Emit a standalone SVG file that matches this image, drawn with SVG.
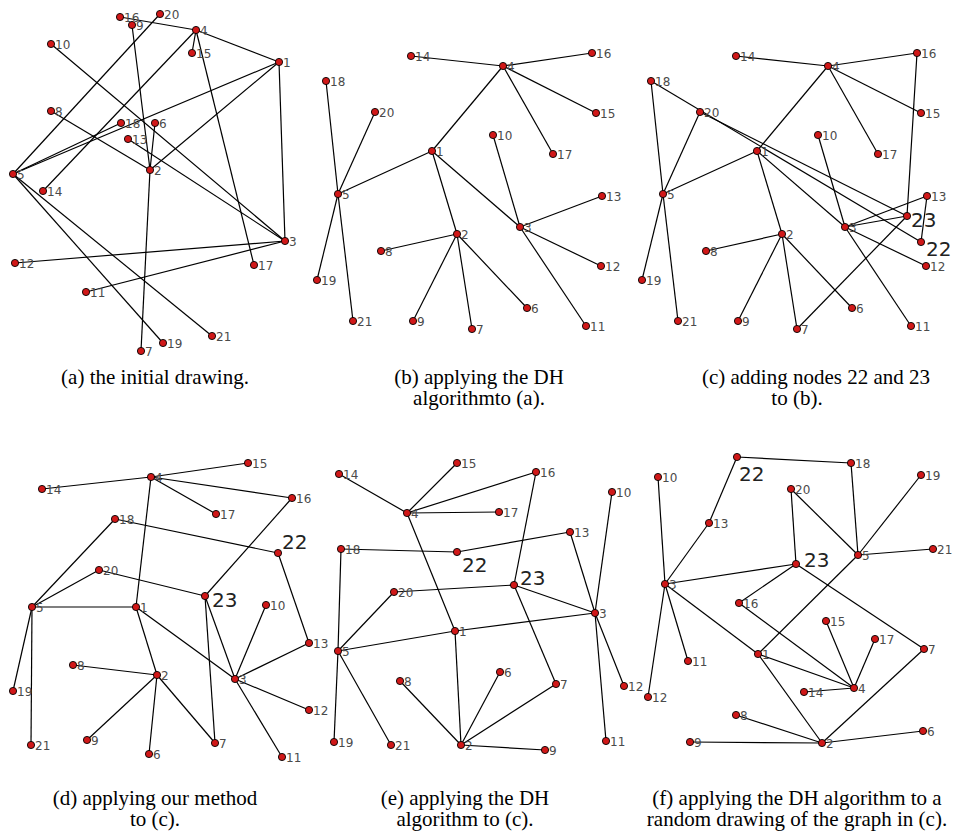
<svg xmlns="http://www.w3.org/2000/svg" width="955" height="831" viewBox="0 0 955 831">
<style>
.edges line{stroke:#000;stroke-width:1.2;fill:none}
.nodes circle{fill:#d01818;stroke:#000;stroke-width:0.9}
.nodes text{font-family:"DejaVu Sans",sans-serif;font-size:12px;fill:#4a4a4a}
.nodes text.big{font-size:20px;fill:#222}
.cap{font-family:"Liberation Serif","Times New Roman",serif;font-size:21px;text-anchor:middle;fill:#000}
</style>
<rect width="955" height="831" fill="#fff"/>

<!-- Panel (a) -->
<g id="panel-a">
<g class="edges" id="a-edges">
<line x1="196" y1="30" x2="279" y2="62"/>
<line x1="196" y1="30" x2="43" y2="191"/>
<line x1="196" y1="30" x2="192" y2="53"/>
<line x1="196" y1="30" x2="120" y2="17"/>
<line x1="196" y1="30" x2="254" y2="265"/>
<line x1="279" y1="62" x2="13" y2="174"/>
<line x1="279" y1="62" x2="150" y2="170"/>
<line x1="279" y1="62" x2="285" y2="241"/>
<line x1="13" y1="174" x2="121" y2="123"/>
<line x1="13" y1="174" x2="163" y2="343"/>
<line x1="13" y1="174" x2="160" y2="14"/>
<line x1="13" y1="174" x2="212" y2="336"/>
<line x1="150" y1="170" x2="155" y2="123"/>
<line x1="150" y1="170" x2="141" y2="351"/>
<line x1="150" y1="170" x2="51" y2="111"/>
<line x1="150" y1="170" x2="132" y2="25"/>
<line x1="285" y1="241" x2="51" y2="44"/>
<line x1="285" y1="241" x2="86" y2="292"/>
<line x1="285" y1="241" x2="15" y2="263"/>
<line x1="285" y1="241" x2="128" y2="139"/>
</g>
<g class="nodes">
<g id="a-1"><circle cx="279" cy="62" r="3.6"/><text x="283" y="66.5">1</text></g>
<g id="a-2"><circle cx="150" cy="170" r="3.6"/><text x="154" y="174.5">2</text></g>
<g id="a-3"><circle cx="285" cy="241" r="3.6"/><text x="289" y="245.5">3</text></g>
<g id="a-4"><circle cx="196" cy="30" r="3.6"/><text x="200" y="34.5">4</text></g>
<g id="a-5"><circle cx="13" cy="174" r="3.6"/><text x="17" y="178.5">5</text></g>
<g id="a-6"><circle cx="155" cy="123" r="3.6"/><text x="159" y="127.5">6</text></g>
<g id="a-7"><circle cx="141" cy="351" r="3.6"/><text x="145" y="355.5">7</text></g>
<g id="a-8"><circle cx="51" cy="111" r="3.6"/><text x="55" y="115.5">8</text></g>
<g id="a-9"><circle cx="132" cy="25" r="3.6"/><text x="136" y="29.5">9</text></g>
<g id="a-10"><circle cx="51" cy="44" r="3.6"/><text x="55" y="48.5">10</text></g>
<g id="a-11"><circle cx="86" cy="292" r="3.6"/><text x="90" y="296.5">11</text></g>
<g id="a-12"><circle cx="15" cy="263" r="3.6"/><text x="19" y="267.5">12</text></g>
<g id="a-13"><circle cx="128" cy="139" r="3.6"/><text x="132" y="143.5">13</text></g>
<g id="a-14"><circle cx="43" cy="191" r="3.6"/><text x="47" y="195.5">14</text></g>
<g id="a-15"><circle cx="192" cy="53" r="3.6"/><text x="196" y="57.5">15</text></g>
<g id="a-16"><circle cx="120" cy="17" r="3.6"/><text x="124" y="21.5">16</text></g>
<g id="a-17"><circle cx="254" cy="265" r="3.6"/><text x="258" y="269.5">17</text></g>
<g id="a-18"><circle cx="121" cy="123" r="3.6"/><text x="125" y="127.5">18</text></g>
<g id="a-19"><circle cx="163" cy="343" r="3.6"/><text x="167" y="347.5">19</text></g>
<g id="a-20"><circle cx="160" cy="14" r="3.6"/><text x="164" y="18.5">20</text></g>
<g id="a-21"><circle cx="212" cy="336" r="3.6"/><text x="216" y="340.5">21</text></g>
</g>
</g>

<!-- Panel (b) -->
<g id="panel-b">
<g class="edges" id="b-edges">
<line x1="503" y1="66" x2="432" y2="151"/>
<line x1="503" y1="66" x2="411" y2="56"/>
<line x1="503" y1="66" x2="596" y2="113"/>
<line x1="503" y1="66" x2="592" y2="53"/>
<line x1="503" y1="66" x2="553" y2="154"/>
<line x1="432" y1="151" x2="338" y2="194"/>
<line x1="432" y1="151" x2="457" y2="234"/>
<line x1="432" y1="151" x2="520" y2="227"/>
<line x1="338" y1="194" x2="326" y2="81"/>
<line x1="338" y1="194" x2="317" y2="280"/>
<line x1="338" y1="194" x2="375" y2="112"/>
<line x1="338" y1="194" x2="353" y2="321"/>
<line x1="457" y1="234" x2="527" y2="308"/>
<line x1="457" y1="234" x2="472" y2="329"/>
<line x1="457" y1="234" x2="381" y2="251"/>
<line x1="457" y1="234" x2="413" y2="321"/>
<line x1="520" y1="227" x2="493" y2="135"/>
<line x1="520" y1="227" x2="586" y2="326"/>
<line x1="520" y1="227" x2="601" y2="266"/>
<line x1="520" y1="227" x2="602" y2="196"/>
</g>
<g class="nodes">
<g id="b-1"><circle cx="432" cy="151" r="3.6"/><text x="436" y="155.5">1</text></g>
<g id="b-2"><circle cx="457" cy="234" r="3.6"/><text x="461" y="238.5">2</text></g>
<g id="b-3"><circle cx="520" cy="227" r="3.6"/><text x="524" y="231.5">3</text></g>
<g id="b-4"><circle cx="503" cy="66" r="3.6"/><text x="507" y="70.5">4</text></g>
<g id="b-5"><circle cx="338" cy="194" r="3.6"/><text x="342" y="198.5">5</text></g>
<g id="b-6"><circle cx="527" cy="308" r="3.6"/><text x="531" y="312.5">6</text></g>
<g id="b-7"><circle cx="472" cy="329" r="3.6"/><text x="476" y="333.5">7</text></g>
<g id="b-8"><circle cx="381" cy="251" r="3.6"/><text x="385" y="255.5">8</text></g>
<g id="b-9"><circle cx="413" cy="321" r="3.6"/><text x="417" y="325.5">9</text></g>
<g id="b-10"><circle cx="493" cy="135" r="3.6"/><text x="497" y="139.5">10</text></g>
<g id="b-11"><circle cx="586" cy="326" r="3.6"/><text x="590" y="330.5">11</text></g>
<g id="b-12"><circle cx="601" cy="266" r="3.6"/><text x="605" y="270.5">12</text></g>
<g id="b-13"><circle cx="602" cy="196" r="3.6"/><text x="606" y="200.5">13</text></g>
<g id="b-14"><circle cx="411" cy="56" r="3.6"/><text x="415" y="60.5">14</text></g>
<g id="b-15"><circle cx="596" cy="113" r="3.6"/><text x="600" y="117.5">15</text></g>
<g id="b-16"><circle cx="592" cy="53" r="3.6"/><text x="596" y="57.5">16</text></g>
<g id="b-17"><circle cx="553" cy="154" r="3.6"/><text x="557" y="158.5">17</text></g>
<g id="b-18"><circle cx="326" cy="81" r="3.6"/><text x="330" y="85.5">18</text></g>
<g id="b-19"><circle cx="317" cy="280" r="3.6"/><text x="321" y="284.5">19</text></g>
<g id="b-20"><circle cx="375" cy="112" r="3.6"/><text x="379" y="116.5">20</text></g>
<g id="b-21"><circle cx="353" cy="321" r="3.6"/><text x="357" y="325.5">21</text></g>
</g>
</g>

<!-- Panel (c) -->
<g id="panel-c" transform="translate(325,0)">
<g class="edges" id="c-edges">
<line x1="503" y1="66" x2="432" y2="151"/>
<line x1="503" y1="66" x2="411" y2="56"/>
<line x1="503" y1="66" x2="596" y2="113"/>
<line x1="503" y1="66" x2="592" y2="53"/>
<line x1="503" y1="66" x2="553" y2="154"/>
<line x1="432" y1="151" x2="338" y2="194"/>
<line x1="432" y1="151" x2="457" y2="234"/>
<line x1="432" y1="151" x2="520" y2="227"/>
<line x1="338" y1="194" x2="326" y2="81"/>
<line x1="338" y1="194" x2="317" y2="280"/>
<line x1="338" y1="194" x2="375" y2="112"/>
<line x1="338" y1="194" x2="353" y2="321"/>
<line x1="457" y1="234" x2="527" y2="308"/>
<line x1="457" y1="234" x2="472" y2="329"/>
<line x1="457" y1="234" x2="381" y2="251"/>
<line x1="457" y1="234" x2="413" y2="321"/>
<line x1="520" y1="227" x2="493" y2="135"/>
<line x1="520" y1="227" x2="586" y2="326"/>
<line x1="520" y1="227" x2="601" y2="266"/>
<line x1="520" y1="227" x2="602" y2="196"/>
<line x1="596" y1="242" x2="326" y2="81"/>
<line x1="596" y1="242" x2="602" y2="196"/>
<line x1="582" y1="216" x2="375" y2="112"/>
<line x1="582" y1="216" x2="592" y2="53"/>
<line x1="582" y1="216" x2="520" y2="227"/>
<line x1="582" y1="216" x2="472" y2="329"/>
</g>
<g class="nodes">
<g id="c-1"><circle cx="432" cy="151" r="3.6"/><text x="436" y="155.5">1</text></g>
<g id="c-2"><circle cx="457" cy="234" r="3.6"/><text x="461" y="238.5">2</text></g>
<g id="c-3"><circle cx="520" cy="227" r="3.6"/><text x="524" y="231.5">3</text></g>
<g id="c-4"><circle cx="503" cy="66" r="3.6"/><text x="507" y="70.5">4</text></g>
<g id="c-5"><circle cx="338" cy="194" r="3.6"/><text x="342" y="198.5">5</text></g>
<g id="c-6"><circle cx="527" cy="308" r="3.6"/><text x="531" y="312.5">6</text></g>
<g id="c-7"><circle cx="472" cy="329" r="3.6"/><text x="476" y="333.5">7</text></g>
<g id="c-8"><circle cx="381" cy="251" r="3.6"/><text x="385" y="255.5">8</text></g>
<g id="c-9"><circle cx="413" cy="321" r="3.6"/><text x="417" y="325.5">9</text></g>
<g id="c-10"><circle cx="493" cy="135" r="3.6"/><text x="497" y="139.5">10</text></g>
<g id="c-11"><circle cx="586" cy="326" r="3.6"/><text x="590" y="330.5">11</text></g>
<g id="c-12"><circle cx="601" cy="266" r="3.6"/><text x="605" y="270.5">12</text></g>
<g id="c-13"><circle cx="602" cy="196" r="3.6"/><text x="606" y="200.5">13</text></g>
<g id="c-14"><circle cx="411" cy="56" r="3.6"/><text x="415" y="60.5">14</text></g>
<g id="c-15"><circle cx="596" cy="113" r="3.6"/><text x="600" y="117.5">15</text></g>
<g id="c-16"><circle cx="592" cy="53" r="3.6"/><text x="596" y="57.5">16</text></g>
<g id="c-17"><circle cx="553" cy="154" r="3.6"/><text x="557" y="158.5">17</text></g>
<g id="c-18"><circle cx="326" cy="81" r="3.6"/><text x="330" y="85.5">18</text></g>
<g id="c-19"><circle cx="317" cy="280" r="3.6"/><text x="321" y="284.5">19</text></g>
<g id="c-20"><circle cx="375" cy="112" r="3.6"/><text x="379" y="116.5">20</text></g>
<g id="c-21"><circle cx="353" cy="321" r="3.6"/><text x="357" y="325.5">21</text></g>
<g id="c-22"><circle cx="596" cy="242" r="3.6"/><text class="big" x="601" y="256">22</text></g>
<g id="c-23"><circle cx="582" cy="216" r="3.6"/><text class="big" x="586" y="227">23</text></g>
</g>
</g>

<!-- Panel (d) -->
<g id="panel-d">
<g class="edges" id="d-edges">
<line x1="151" y1="477" x2="136" y2="607"/>
<line x1="151" y1="477" x2="42" y2="489"/>
<line x1="151" y1="477" x2="248" y2="463"/>
<line x1="151" y1="477" x2="292" y2="498"/>
<line x1="151" y1="477" x2="216" y2="514"/>
<line x1="136" y1="607" x2="32" y2="607"/>
<line x1="136" y1="607" x2="157" y2="675"/>
<line x1="136" y1="607" x2="235" y2="679"/>
<line x1="32" y1="607" x2="115" y2="519"/>
<line x1="32" y1="607" x2="13" y2="691"/>
<line x1="32" y1="607" x2="99" y2="570"/>
<line x1="32" y1="607" x2="31" y2="745"/>
<line x1="157" y1="675" x2="149" y2="754"/>
<line x1="157" y1="675" x2="215" y2="743"/>
<line x1="157" y1="675" x2="73" y2="665"/>
<line x1="157" y1="675" x2="87" y2="740"/>
<line x1="235" y1="679" x2="266" y2="605"/>
<line x1="235" y1="679" x2="282" y2="757"/>
<line x1="235" y1="679" x2="309" y2="710"/>
<line x1="235" y1="679" x2="309" y2="643"/>
<line x1="278" y1="553" x2="115" y2="519"/>
<line x1="278" y1="553" x2="309" y2="643"/>
<line x1="205" y1="596" x2="99" y2="570"/>
<line x1="205" y1="596" x2="292" y2="498"/>
<line x1="205" y1="596" x2="235" y2="679"/>
<line x1="205" y1="596" x2="215" y2="743"/>
</g>
<g class="nodes">
<g id="d-1"><circle cx="136" cy="607" r="3.6"/><text x="140" y="611.5">1</text></g>
<g id="d-2"><circle cx="157" cy="675" r="3.6"/><text x="161" y="679.5">2</text></g>
<g id="d-3"><circle cx="235" cy="679" r="3.6"/><text x="239" y="683.5">3</text></g>
<g id="d-4"><circle cx="151" cy="477" r="3.6"/><text x="155" y="481.5">4</text></g>
<g id="d-5"><circle cx="32" cy="607" r="3.6"/><text x="36" y="611.5">5</text></g>
<g id="d-6"><circle cx="149" cy="754" r="3.6"/><text x="153" y="758.5">6</text></g>
<g id="d-7"><circle cx="215" cy="743" r="3.6"/><text x="219" y="747.5">7</text></g>
<g id="d-8"><circle cx="73" cy="665" r="3.6"/><text x="77" y="669.5">8</text></g>
<g id="d-9"><circle cx="87" cy="740" r="3.6"/><text x="91" y="744.5">9</text></g>
<g id="d-10"><circle cx="266" cy="605" r="3.6"/><text x="270" y="609.5">10</text></g>
<g id="d-11"><circle cx="282" cy="757" r="3.6"/><text x="286" y="761.5">11</text></g>
<g id="d-12"><circle cx="309" cy="710" r="3.6"/><text x="313" y="714.5">12</text></g>
<g id="d-13"><circle cx="309" cy="643" r="3.6"/><text x="313" y="647.5">13</text></g>
<g id="d-14"><circle cx="42" cy="489" r="3.6"/><text x="46" y="493.5">14</text></g>
<g id="d-15"><circle cx="248" cy="463" r="3.6"/><text x="252" y="467.5">15</text></g>
<g id="d-16"><circle cx="292" cy="498" r="3.6"/><text x="296" y="502.5">16</text></g>
<g id="d-17"><circle cx="216" cy="514" r="3.6"/><text x="220" y="518.5">17</text></g>
<g id="d-18"><circle cx="115" cy="519" r="3.6"/><text x="119" y="523.5">18</text></g>
<g id="d-19"><circle cx="13" cy="691" r="3.6"/><text x="17" y="695.5">19</text></g>
<g id="d-20"><circle cx="99" cy="570" r="3.6"/><text x="103" y="574.5">20</text></g>
<g id="d-21"><circle cx="31" cy="745" r="3.6"/><text x="35" y="749.5">21</text></g>
<g id="d-22"><circle cx="278" cy="553" r="3.6"/><text class="big" x="282" y="549">22</text></g>
<g id="d-23"><circle cx="205" cy="596" r="3.6"/><text class="big" x="212" y="607">23</text></g>
</g>
</g>

<!-- Panel (e) -->
<g id="panel-e">
<g class="edges" id="e-edges">
<line x1="407" y1="513" x2="455" y2="631"/>
<line x1="407" y1="513" x2="339" y2="474"/>
<line x1="407" y1="513" x2="457" y2="463"/>
<line x1="407" y1="513" x2="536" y2="472"/>
<line x1="407" y1="513" x2="499" y2="512"/>
<line x1="455" y1="631" x2="338" y2="651"/>
<line x1="455" y1="631" x2="461" y2="745"/>
<line x1="455" y1="631" x2="595" y2="613"/>
<line x1="338" y1="651" x2="341" y2="549"/>
<line x1="338" y1="651" x2="334" y2="742"/>
<line x1="338" y1="651" x2="394" y2="592"/>
<line x1="338" y1="651" x2="391" y2="745"/>
<line x1="461" y1="745" x2="500" y2="672"/>
<line x1="461" y1="745" x2="556" y2="684"/>
<line x1="461" y1="745" x2="400" y2="681"/>
<line x1="461" y1="745" x2="545" y2="750"/>
<line x1="595" y1="613" x2="612" y2="492"/>
<line x1="595" y1="613" x2="606" y2="741"/>
<line x1="595" y1="613" x2="624" y2="686"/>
<line x1="595" y1="613" x2="570" y2="532"/>
<line x1="457" y1="552" x2="341" y2="549"/>
<line x1="457" y1="552" x2="570" y2="532"/>
<line x1="514" y1="585" x2="394" y2="592"/>
<line x1="514" y1="585" x2="536" y2="472"/>
<line x1="514" y1="585" x2="595" y2="613"/>
<line x1="514" y1="585" x2="556" y2="684"/>
</g>
<g class="nodes">
<g id="e-1"><circle cx="455" cy="631" r="3.6"/><text x="459" y="635.5">1</text></g>
<g id="e-2"><circle cx="461" cy="745" r="3.6"/><text x="465" y="749.5">2</text></g>
<g id="e-3"><circle cx="595" cy="613" r="3.6"/><text x="599" y="617.5">3</text></g>
<g id="e-4"><circle cx="407" cy="513" r="3.6"/><text x="411" y="517.5">4</text></g>
<g id="e-5"><circle cx="338" cy="651" r="3.6"/><text x="342" y="655.5">5</text></g>
<g id="e-6"><circle cx="500" cy="672" r="3.6"/><text x="504" y="676.5">6</text></g>
<g id="e-7"><circle cx="556" cy="684" r="3.6"/><text x="560" y="688.5">7</text></g>
<g id="e-8"><circle cx="400" cy="681" r="3.6"/><text x="404" y="685.5">8</text></g>
<g id="e-9"><circle cx="545" cy="750" r="3.6"/><text x="549" y="754.5">9</text></g>
<g id="e-10"><circle cx="612" cy="492" r="3.6"/><text x="616" y="496.5">10</text></g>
<g id="e-11"><circle cx="606" cy="741" r="3.6"/><text x="610" y="745.5">11</text></g>
<g id="e-12"><circle cx="624" cy="686" r="3.6"/><text x="628" y="690.5">12</text></g>
<g id="e-13"><circle cx="570" cy="532" r="3.6"/><text x="574" y="536.5">13</text></g>
<g id="e-14"><circle cx="339" cy="474" r="3.6"/><text x="343" y="478.5">14</text></g>
<g id="e-15"><circle cx="457" cy="463" r="3.6"/><text x="461" y="467.5">15</text></g>
<g id="e-16"><circle cx="536" cy="472" r="3.6"/><text x="540" y="476.5">16</text></g>
<g id="e-17"><circle cx="499" cy="512" r="3.6"/><text x="503" y="516.5">17</text></g>
<g id="e-18"><circle cx="341" cy="549" r="3.6"/><text x="345" y="553.5">18</text></g>
<g id="e-19"><circle cx="334" cy="742" r="3.6"/><text x="338" y="746.5">19</text></g>
<g id="e-20"><circle cx="394" cy="592" r="3.6"/><text x="398" y="596.5">20</text></g>
<g id="e-21"><circle cx="391" cy="745" r="3.6"/><text x="395" y="749.5">21</text></g>
<g id="e-22"><circle cx="457" cy="552" r="3.6"/><text class="big" x="462" y="572">22</text></g>
<g id="e-23"><circle cx="514" cy="585" r="3.6"/><text class="big" x="520" y="585">23</text></g>
</g>
</g>

<!-- Panel (f) -->
<g id="panel-f">
<g class="edges" id="f-edges">
<line x1="854" y1="688" x2="758" y2="654"/>
<line x1="854" y1="688" x2="804" y2="692"/>
<line x1="854" y1="688" x2="826" y2="621"/>
<line x1="854" y1="688" x2="739" y2="603"/>
<line x1="854" y1="688" x2="875" y2="639"/>
<line x1="758" y1="654" x2="858" y2="555"/>
<line x1="758" y1="654" x2="822" y2="743"/>
<line x1="758" y1="654" x2="665" y2="584"/>
<line x1="858" y1="555" x2="851" y2="463"/>
<line x1="858" y1="555" x2="921" y2="475"/>
<line x1="858" y1="555" x2="791" y2="489"/>
<line x1="858" y1="555" x2="933" y2="549"/>
<line x1="822" y1="743" x2="923" y2="731"/>
<line x1="822" y1="743" x2="924" y2="649"/>
<line x1="822" y1="743" x2="736" y2="715"/>
<line x1="822" y1="743" x2="690" y2="742"/>
<line x1="665" y1="584" x2="658" y2="477"/>
<line x1="665" y1="584" x2="688" y2="661"/>
<line x1="665" y1="584" x2="648" y2="697"/>
<line x1="665" y1="584" x2="709" y2="523"/>
<line x1="737" y1="457" x2="851" y2="463"/>
<line x1="737" y1="457" x2="709" y2="523"/>
<line x1="796" y1="564" x2="791" y2="489"/>
<line x1="796" y1="564" x2="739" y2="603"/>
<line x1="796" y1="564" x2="665" y2="584"/>
<line x1="796" y1="564" x2="924" y2="649"/>
</g>
<g class="nodes">
<g id="f-1"><circle cx="758" cy="654" r="3.6"/><text x="762" y="658.5">1</text></g>
<g id="f-2"><circle cx="822" cy="743" r="3.6"/><text x="826" y="747.5">2</text></g>
<g id="f-3"><circle cx="665" cy="584" r="3.6"/><text x="669" y="588.5">3</text></g>
<g id="f-4"><circle cx="854" cy="688" r="3.6"/><text x="858" y="692.5">4</text></g>
<g id="f-5"><circle cx="858" cy="555" r="3.6"/><text x="862" y="559.5">5</text></g>
<g id="f-6"><circle cx="923" cy="731" r="3.6"/><text x="927" y="735.5">6</text></g>
<g id="f-7"><circle cx="924" cy="649" r="3.6"/><text x="928" y="653.5">7</text></g>
<g id="f-8"><circle cx="736" cy="715" r="3.6"/><text x="740" y="719.5">8</text></g>
<g id="f-9"><circle cx="690" cy="742" r="3.6"/><text x="694" y="746.5">9</text></g>
<g id="f-10"><circle cx="658" cy="477" r="3.6"/><text x="662" y="481.5">10</text></g>
<g id="f-11"><circle cx="688" cy="661" r="3.6"/><text x="692" y="665.5">11</text></g>
<g id="f-12"><circle cx="648" cy="697" r="3.6"/><text x="652" y="701.5">12</text></g>
<g id="f-13"><circle cx="709" cy="523" r="3.6"/><text x="713" y="527.5">13</text></g>
<g id="f-14"><circle cx="804" cy="692" r="3.6"/><text x="808" y="696.5">14</text></g>
<g id="f-15"><circle cx="826" cy="621" r="3.6"/><text x="830" y="625.5">15</text></g>
<g id="f-16"><circle cx="739" cy="603" r="3.6"/><text x="743" y="607.5">16</text></g>
<g id="f-17"><circle cx="875" cy="639" r="3.6"/><text x="879" y="643.5">17</text></g>
<g id="f-18"><circle cx="851" cy="463" r="3.6"/><text x="855" y="467.5">18</text></g>
<g id="f-19"><circle cx="921" cy="475" r="3.6"/><text x="925" y="479.5">19</text></g>
<g id="f-20"><circle cx="791" cy="489" r="3.6"/><text x="795" y="493.5">20</text></g>
<g id="f-21"><circle cx="933" cy="549" r="3.6"/><text x="937" y="553.5">21</text></g>
<g id="f-22"><circle cx="737" cy="457" r="3.6"/><text class="big" x="739" y="481">22</text></g>
<g id="f-23"><circle cx="796" cy="564" r="3.6"/><text class="big" x="804" y="567">23</text></g>
</g>
</g>

<!-- Captions -->
<g id="captions">
<text class="cap" x="155" y="384">(a) the initial drawing.</text>
<text class="cap" x="479" y="384">(b) applying the DH</text>
<text class="cap" x="479" y="405">algorithmto (a).</text>
<text class="cap" x="816" y="384">(c) adding nodes 22 and 23</text>
<text class="cap" x="797" y="405">to (b).</text>
<text class="cap" x="155" y="805">(d) applying our method</text>
<text class="cap" x="155" y="826">to (c).</text>
<text class="cap" x="465" y="805">(e) applying the DH</text>
<text class="cap" x="465" y="826">algorithm to (c).</text>
<text class="cap" x="797" y="805">(f) applying the DH algorithm to a</text>
<text class="cap" x="797" y="826">random drawing of the graph in (c).</text>
</g>
</svg>
